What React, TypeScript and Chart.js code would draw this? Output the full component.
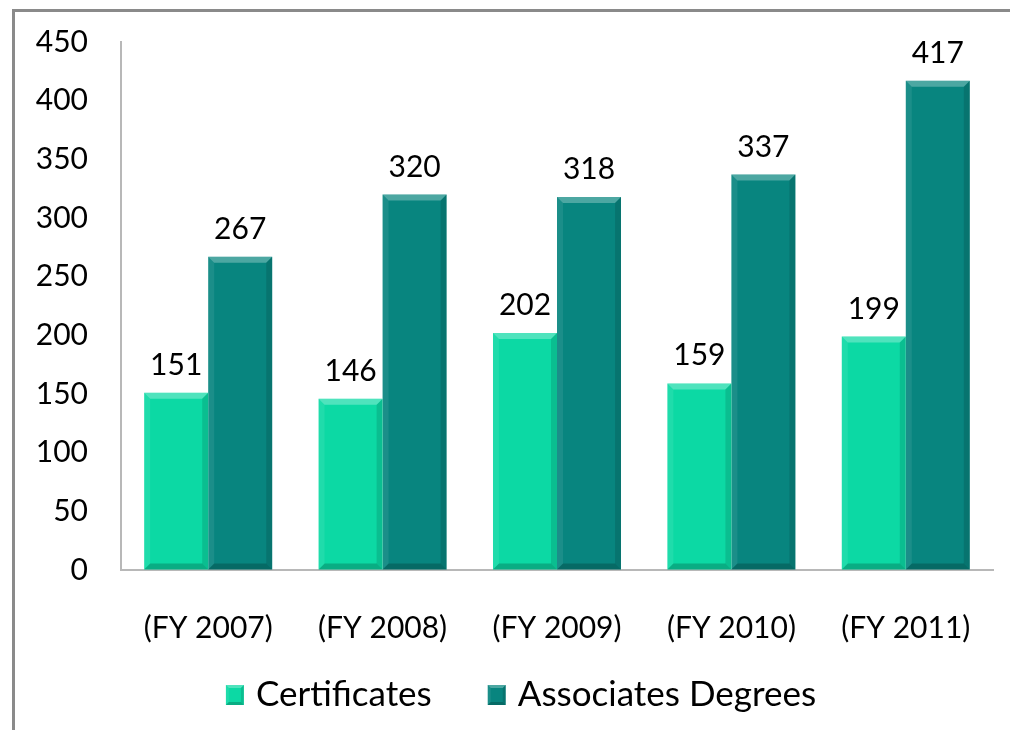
import React, { useEffect, useRef } from "react";
import { Chart, registerables } from "chart.js";

Chart.register(...registerables);

const categories = ["(FY 2007)", "(FY 2008)", "(FY 2009)", "(FY 2010)", "(FY 2011)"];
const certificates = [151, 146, 202, 159, 199];
const associates = [267, 320, 318, 337, 417];
const yTicks = [0, 50, 100, 150, 200, 250, 300, 350, 400, 450];

const FONT = "Lato, 'Noto Sans', sans-serif";
const LIGHT = "#0cd9a4";
const DARK = "#08857f";

function bevel(ctx: CanvasRenderingContext2D, l: number, t: number, r: number, b: number, s: number) {
  ctx.fillStyle = "rgba(255,255,255,0.28)";
  ctx.beginPath();
  ctx.moveTo(l, t);
  ctx.lineTo(r, t);
  ctx.lineTo(r - s, t + s);
  ctx.lineTo(l + s, t + s);
  ctx.closePath();
  ctx.fill();
  ctx.fillStyle = "rgba(255,255,255,0.08)";
  ctx.beginPath();
  ctx.moveTo(l, t);
  ctx.lineTo(l + s, t + s);
  ctx.lineTo(l + s, b - s);
  ctx.lineTo(l, b);
  ctx.closePath();
  ctx.fill();
  ctx.fillStyle = "rgba(0,0,0,0.12)";
  ctx.beginPath();
  ctx.moveTo(r, t);
  ctx.lineTo(r - s, t + s);
  ctx.lineTo(r - s, b - s);
  ctx.lineTo(r, b);
  ctx.closePath();
  ctx.fill();
  ctx.fillStyle = "rgba(0,0,0,0.2)";
  ctx.beginPath();
  ctx.moveTo(l, b);
  ctx.lineTo(l + s, b - s);
  ctx.lineTo(r - s, b - s);
  ctx.lineTo(r, b);
  ctx.closePath();
  ctx.fill();
}

const bevelPlugin = {
  id: "bevel",
  afterDatasetsDraw(chart: any) {
    const ctx = chart.ctx;
    chart.data.datasets.forEach((ds: any, di: number) => {
      const meta = chart.getDatasetMeta(di);
      meta.data.forEach((bar: any, i: number) => {
        const w = bar.width;
        ctx.save();
        bevel(ctx, bar.x - w / 2, bar.y, bar.x + w / 2, bar.base, 6);
        ctx.fillStyle = "#000";
        ctx.font = `30px ${FONT}`;
        ctx.textAlign = "center";
        ctx.textBaseline = "alphabetic";
        ctx.fillText(String(ds.data[i]), bar.x, bar.y - 18);
        ctx.restore();
      });
    });
  },
};

const legendPlugin = {
  id: "customLegend",
  afterDraw(chart: any) {
    const ctx = chart.ctx;
    const boxW = 18;
    const boxH = 20;
    const textGap = 12;
    const itemGap = 56;
    const centerX = 521;
    const centerY = 695;
    ctx.save();
    ctx.font = `35px ${FONT}`;
    const items = chart.data.datasets.map((ds: any) => ({
      label: ds.label,
      color: ds.backgroundColor,
      w: boxW + textGap + ctx.measureText(ds.label).width,
    }));
    const total = items.reduce((a: number, it: any) => a + it.w, 0) + itemGap * (items.length - 1);
    let x = centerX - total / 2;
    items.forEach((it: any) => {
      ctx.fillStyle = it.color;
      ctx.fillRect(x, centerY - boxH / 2, boxW, boxH);
      bevel(ctx, x, centerY - boxH / 2, x + boxW, centerY + boxH / 2, 3);
      ctx.fillStyle = "#000";
      ctx.textAlign = "left";
      ctx.textBaseline = "middle";
      ctx.fillText(it.label, x + boxW + textGap, centerY);
      x += it.w + itemGap;
    });
    ctx.restore();
  },
};

export default function App() {
  const ref = useRef<HTMLCanvasElement | null>(null);

  useEffect(() => {
    document.body.style.margin = "0";
    const canvas = ref.current!;
    const chart = new Chart(canvas, {
      type: "bar",
      data: {
        labels: categories,
        datasets: [
          {
            label: "Certificates",
            data: certificates,
            backgroundColor: LIGHT,
            borderWidth: 0,
            barPercentage: 1,
            categoryPercentage: 0.734,
          },
          {
            label: "Associates Degrees",
            data: associates,
            backgroundColor: DARK,
            borderWidth: 0,
            barPercentage: 1,
            categoryPercentage: 0.734,
          },
        ],
      },
      options: {
        responsive: false,
        animation: false,
        layout: { autoPadding: false, padding: { left: 0, right: 17, top: 42, bottom: 84 } },
        plugins: {
          tooltip: { enabled: false },
          legend: { display: false },
        },
        scales: {
          x: {
            afterFit: (scale: any) => {
              scale.height = 76;
            },
            grid: {
              display: true,
              drawOnChartArea: false,
              drawTicks: true,
              tickLength: 40,
              color: "rgba(0,0,0,0)",
              tickColor: "rgba(0,0,0,0)",
            },
            border: { display: true, color: "#b8b8b8", width: 2 },
            ticks: {
              color: "#000",
              font: { family: FONT, size: 30 },
              padding: 0,
            },
          },
          y: {
            min: 0,
            max: 450,
            afterFit: (scale: any) => {
              scale.width = 121;
            },
            afterBuildTicks: (scale: any) => {
              scale.ticks = yTicks.map((v) => ({ value: v }));
            },
            grid: {
              display: true,
              drawOnChartArea: false,
              drawTicks: true,
              tickLength: 33,
              color: "rgba(0,0,0,0)",
              tickColor: "rgba(0,0,0,0)",
            },
            border: { display: true, color: "#b8b8b8", width: 2 },
            ticks: {
              color: "#000",
              font: { family: FONT, size: 30 },
              padding: 0,
            },
          },
        },
      },
      plugins: [bevelPlugin, legendPlugin],
    });
    return () => chart.destroy();
  }, []);

  return (
    <div style={{ position: "relative", width: 1010, height: 730, background: "#fff", overflow: "hidden" }}>
      <div
        style={{
          position: "absolute",
          left: 12,
          top: 9,
          width: 1100,
          height: 800,
          borderTop: "3px solid #8a8a8a",
          borderLeft: "3px solid #8a8a8a",
        }}
      />
      <canvas ref={ref} width={1010} height={730} style={{ position: "absolute", left: 0, top: 0 }} />
    </div>
  );
}
